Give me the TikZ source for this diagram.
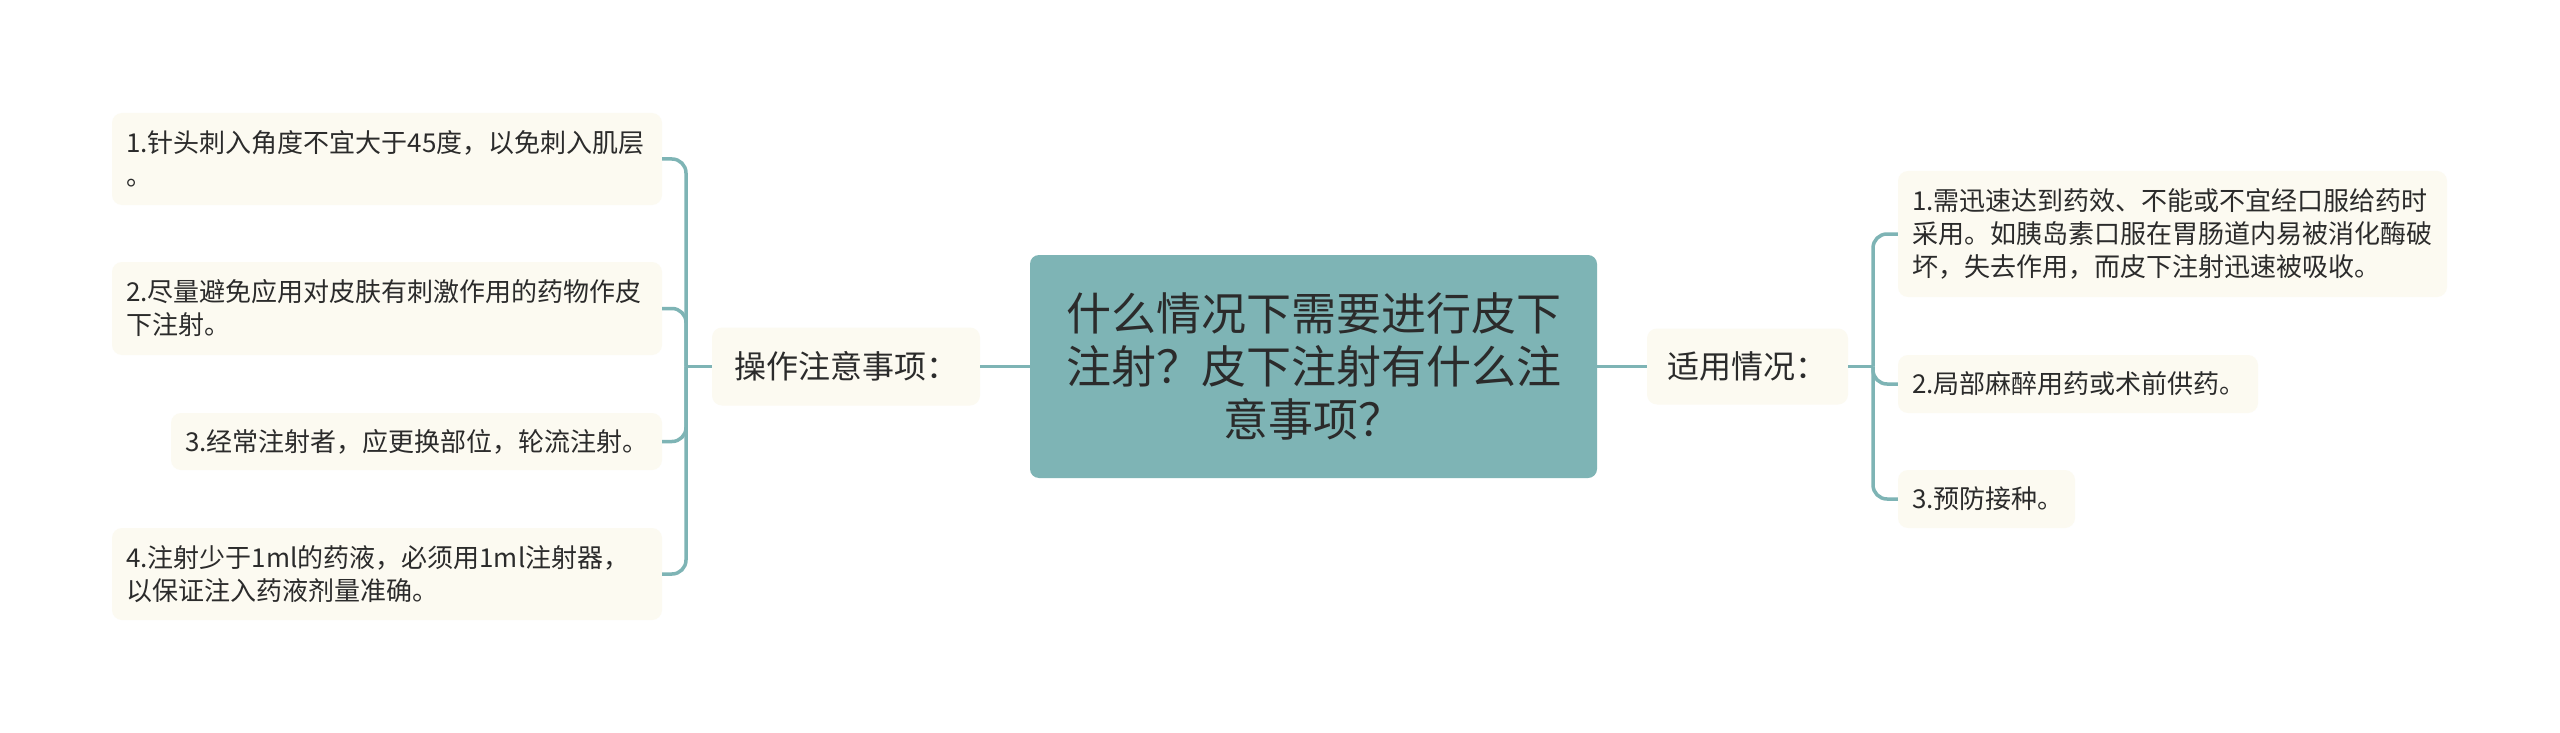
\documentclass[tikz,border=0pt]{standalone}
\usepackage{fontspec}
\setmainfont{Noto Sans CJK SC}
\definecolor{teal}{HTML}{7EB4B5}
\definecolor{leaffill}{HTML}{FCFAF1}
\definecolor{txt}{HTML}{2B2B2B}
\tikzset{
  central/.style={fill=teal, rounded corners=9pt, text=txt, align=center,
    font=\fontsize{45pt}{53pt}\selectfont, inner sep=0pt},
  subbox/.style={fill=leaffill, rounded corners=10pt, text=txt, align=center,
    font=\fontsize{32pt}{38pt}\selectfont, inner sep=0pt},
  leafbox/.style={fill=leaffill, rounded corners=10pt, text=txt, align=left,
    font=\fontsize{26pt}{33pt}\selectfont, inner xsep=14pt, inner ysep=0pt},
  conn/.style={draw=teal, line width=3.5pt},
  branch/.style={conn, rounded corners=14pt},
}
\begin{document}
\begin{tikzpicture}[x=1pt,y=-1pt]
\fill[white] (0,0) rectangle (2560,733);
\useasboundingbox (0,0) rectangle (2560,733);

\node[central, minimum width=567pt, minimum height=223pt] (c) at (1313.5,366.5)
  {什么情况下需要进行皮下\\注射？皮下注射有什么注\\意事项？};

\node[subbox, minimum width=268pt, minimum height=78pt] (ls) at (846,366.5) {操作注意事项：};
\node[subbox, minimum width=201pt, minimum height=76pt] (rs) at (1747.5,366.5) {适用情况：};

% left leaves
\node[leafbox, text width=522pt, minimum height=92pt] (l1) at (387,159)
  {1.针头刺入角度不宜大于45度，以免刺入肌层\\。};
\node[leafbox, text width=522pt, minimum height=93pt] (l2) at (387,308.5)
  {2.尽量避免应用对皮肤有刺激作用的药物作皮\\下注射。};
\node[leafbox, text width=463pt, minimum height=57pt] (l3) at (416.5,441.5)
  {3.经常注射者，应更换部位，轮流注射。};
\node[leafbox, text width=522pt, minimum height=92pt] (l4) at (387,574)
  {4.注射少于1ml的药液，必须用1ml注射器，\\以保证注入药液剂量准确。};

% right leaves
\node[leafbox, text width=521pt, minimum height=126pt] (r1) at (2172.5,234)
  {1.需迅速达到药效、不能或不宜经口服给药时\\采用。如胰岛素口服在胃肠道内易被消化酶破\\坏，失去作用，而皮下注射迅速被吸收。};
\node[leafbox, text width=332pt, minimum height=58pt] (r2) at (2078,384)
  {2.局部麻醉用药或术前供药。};
\node[leafbox, text width=149pt, minimum height=58pt] (r3) at (1986.5,499)
  {3.预防接种。};

% connectors
\draw[conn] (c.west) -- (ls.east);
\draw[conn] (c.east) -- (rs.west);

\coordinate (lj) at (686,366.5);
\draw[conn] (ls.west) -- (lj);
\foreach \n in {l1,l2,l3,l4} {\draw[branch] (lj) |- (\n.east);}

\coordinate (rj) at (1873,366.5);
\draw[conn] (rs.east) -- (rj);
\foreach \n in {r1,r2,r3} {\draw[branch] (rj) |- (\n.west);}
\end{tikzpicture}
\end{document}
